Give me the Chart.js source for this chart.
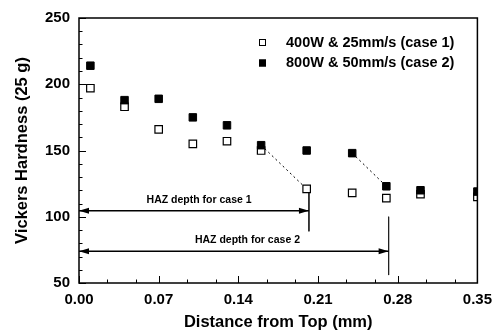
<!DOCTYPE html>
<html>
<head>
<meta charset="utf-8">
<script src="https://cdn.jsdelivr.net/npm/chart.js@4.4.1/dist/chart.umd.min.js"></script>
<style>
  html, body { margin: 0; padding: 0; background: #fff; }
  #grafico { display: block; }
</style>
</head>
<body>
<canvas id="grafico" width="500" height="332"></canvas>
<script>
const FUENTE = '"Liberation Sans", Arial, Helvetica, sans-serif';

// valores
const distancias = [0.01, 0.04, 0.07, 0.10, 0.13, 0.16, 0.20, 0.24, 0.27, 0.30, 0.35];
const durezaCaso1 = [197, 183, 166, 155, 157, 150, 121, 118, 114, 117, 115];
const durezaCaso2 = [214, 188, 189, 175, 169, 154, 150, 148, 123, 120, 119];
const etiquetas = ['400W & 25mm/s (case 1)', '800W & 50mm/s (case 2)'];

const ticksX = [0, 0.07, 0.14, 0.21, 0.28, 0.35];
const ticksXMenores = [0.025, 0.05, 0.095, 0.12, 0.165, 0.19, 0.235, 0.26, 0.305, 0.33];
const ticksY = [50, 100, 150, 200, 250];
const ticksYMenores = [60, 70, 80, 90, 110, 120, 130, 140, 160, 170, 180, 190, 210, 220, 230, 240];

// lineas punteadas
const guia1X = [0.16, 0.20];
const guia1Y = [154, 121];
const guia2X = [0.24, 0.27];
const guia2Y = [148, 123];

// flechas HAZ
const hazTextos = ['HAZ depth for case 1', 'HAZ depth for case 2'];
const hazY = [104.5, 74];
const hazFin = [0.202, 0.272];
const hazVertSup = [121, 100];
const hazVertInf = [89, 56];
const hazTextoX = [0.1055, 0.148];
const hazTextoY = [112.5, 82];

const puntos = (xs, ys) => xs.map((v, i) => ({ x: v, y: ys[i] }));

const datasets = [
  {
    label: etiquetas[1],
    data: puntos(distancias, durezaCaso2),
    pointStyle: 'rect',
    pointRadius: 5.3,
    backgroundColor: '#000',
    borderColor: '#000',
    borderWidth: 1,
    order: 1
  },
  {
    label: etiquetas[0],
    data: puntos(distancias, durezaCaso1),
    pointStyle: 'rect',
    pointRadius: 5.3,
    backgroundColor: '#fff',
    borderColor: '#000',
    borderWidth: 1.2,
    order: 2
  }
];

[[guia1X, guia1Y], [guia2X, guia2Y]].forEach(([xs, ys]) => {
  datasets.push({
    data: puntos(xs, ys),
    showLine: true,
    borderColor: '#000',
    borderWidth: 1,
    borderDash: [2, 3],
    pointRadius: 0,
    order: 3
  });
});

hazY.forEach((yv, i) => {
  datasets.push({
    data: [{ x: 0, y: yv }, { x: hazFin[i], y: yv }],
    showLine: true,
    borderColor: '#000',
    borderWidth: 1.5,
    pointRadius: 0,
    order: 4
  });
  datasets.push({
    data: [{ x: hazFin[i], y: hazVertSup[i] }, { x: hazFin[i], y: hazVertInf[i] }],
    showLine: true,
    borderColor: '#222',
    borderWidth: 1,
    pointRadius: 0,
    order: 4
  });
});

function punta(ctx, px, py, dir) {
  ctx.beginPath();
  ctx.moveTo(px, py);
  ctx.lineTo(px - dir * 10, py - 3);
  ctx.lineTo(px - dir * 10, py + 3);
  ctx.closePath();
  ctx.fill();
}

const extras = {
  id: 'extras',
  afterDatasetsDraw(chart) {
    const { ctx, chartArea: a, scales: { x, y } } = chart;
    ctx.save();
    ctx.strokeStyle = '#000';
    ctx.fillStyle = '#000';

    // ticks hacia adentro
    ctx.lineWidth = 1;
    ctx.beginPath();
    const tickX = (v, largo) => {
      const px = Math.round(x.getPixelForValue(v)) + 0.5;
      ctx.moveTo(px, a.bottom);
      ctx.lineTo(px, a.bottom - largo);
    };
    const tickY = (v, largo) => {
      const py = Math.round(y.getPixelForValue(v)) + 0.5;
      ctx.moveTo(a.left, py);
      ctx.lineTo(a.left + largo, py);
    };
    ticksX.forEach(v => tickX(v, 7));
    ticksXMenores.forEach(v => tickX(v, 3.5));
    ticksY.forEach(v => tickY(v, 7));
    ticksYMenores.forEach(v => tickY(v, 3.5));
    ctx.stroke();

    // marco
    ctx.lineWidth = 1.5;
    ctx.strokeRect(a.left, a.top, a.right - a.left, a.bottom - a.top);

    // puntas de flecha y textos HAZ
    ctx.font = 'bold 10.5px ' + FUENTE;
    ctx.textAlign = 'center';
    ctx.textBaseline = 'middle';
    hazY.forEach((yv, i) => {
      const py = y.getPixelForValue(yv);
      punta(ctx, x.getPixelForValue(0), py, -1);
      punta(ctx, x.getPixelForValue(hazFin[i]), py, 1);
      ctx.fillText(hazTextos[i], x.getPixelForValue(hazTextoX[i]), y.getPixelForValue(hazTextoY[i]));
    });

    // leyenda
    ctx.font = 'bold 14.5px ' + FUENTE;
    ctx.textAlign = 'left';
    const filas = [
      { texto: etiquetas[0], relleno: '#fff', y: 42.5 },
      { texto: etiquetas[1], relleno: '#000', y: 63 }
    ];
    filas.forEach(f => {
      ctx.fillStyle = f.relleno;
      ctx.fillRect(259, f.y - 3.5, 7, 7);
      ctx.lineWidth = 1;
      ctx.strokeRect(259.5, f.y - 3, 6, 6);
      ctx.fillStyle = '#000';
      ctx.fillText(f.texto, 286, f.y);
    });
    ctx.restore();
  }
};

new Chart(document.getElementById('grafico').getContext('2d'), {
  type: 'scatter',
  data: { datasets },
  options: {
    responsive: false,
    animation: false,
    devicePixelRatio: 1,
    events: [],
    layout: { padding: { top: 15, right: 20, left: 0, bottom: 0 } },
    plugins: { legend: { display: false }, tooltip: { enabled: false } },
    scales: {
      x: {
        type: 'linear',
        min: 0,
        max: 0.35,
        afterBuildTicks: s => { s.ticks = ticksX.map(v => ({ value: v })); },
        afterFit: s => { s.height = 49; },
        grid: { display: false, drawTicks: false },
        border: { display: false },
        ticks: {
          color: '#000',
          padding: 8,
          maxRotation: 0,
          font: { family: FUENTE, size: 15, weight: 'bold' },
          callback: v => Number(v).toFixed(2)
        },
        title: {
          display: true,
          text: 'Distance from Top (mm)',
          color: '#000',
          padding: { top: 0, bottom: 0 },
          font: { family: FUENTE, size: 16.5, weight: 'bold' }
        }
      },
      y: {
        type: 'linear',
        min: 50,
        max: 250,
        afterBuildTicks: s => { s.ticks = ticksY.map(v => ({ value: v })); },
        afterFit: s => { s.width = 79; },
        grid: { display: false, drawTicks: false },
        border: { display: false },
        ticks: {
          color: '#000',
          padding: 9,
          font: { family: FUENTE, size: 15, weight: 'bold' }
        },
        title: {
          display: true,
          text: 'Vickers Hardness (25 g)',
          color: '#000',
          padding: { top: 13, bottom: 0 },
          font: { family: FUENTE, size: 16.5, weight: 'bold' }
        }
      }
    }
  },
  plugins: [extras]
});
</script>
</body>
</html>
